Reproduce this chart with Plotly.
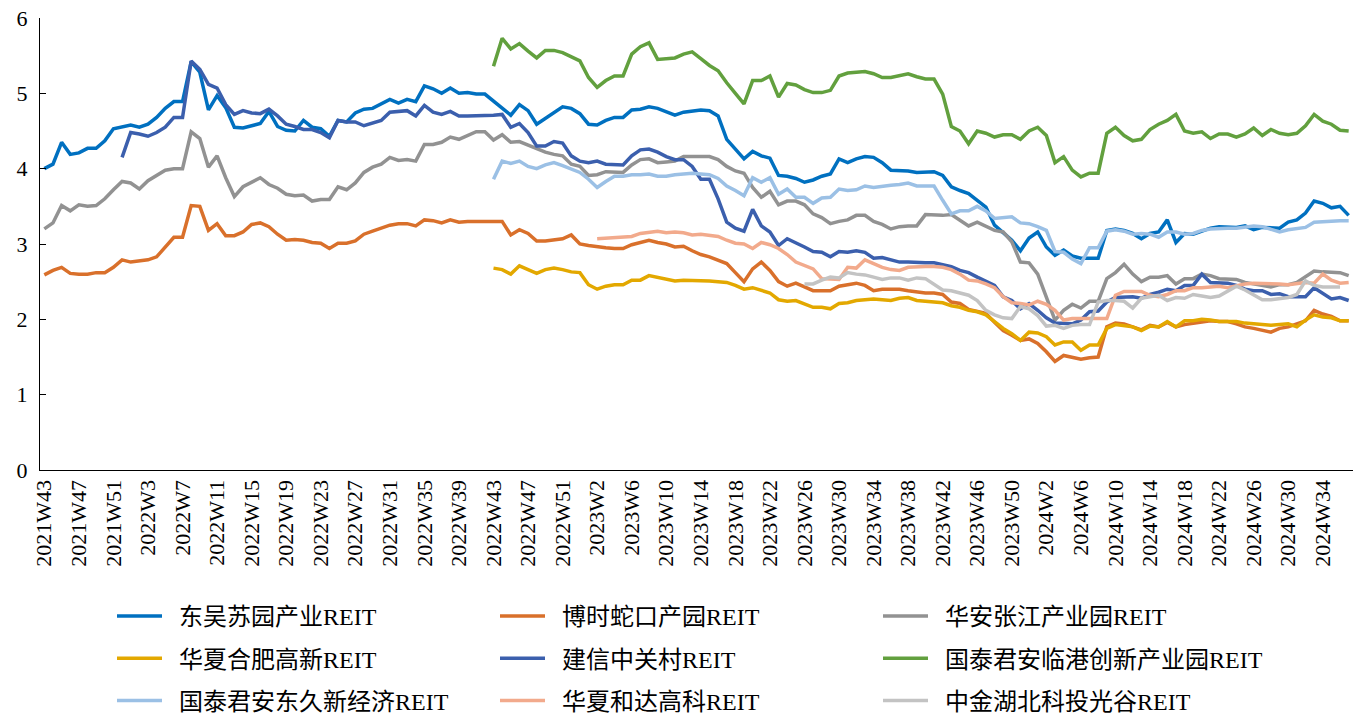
import plotly.graph_objects as go

# ---------------- categories (weekly labels) ----------------
CATEGORIES = ([f"2021W{w}" for w in range(43, 54)] +
              [f"2022W{w}" for w in range(2, 54)] +
              [f"2023W{w}" for w in range(1, 53)] +
              [f"2024W{w}" for w in range(1, 38)])

TICK_LABELS = ["2021W43", "2021W47", "2021W51", "2022W3", "2022W7", "2022W11", "2022W15",
               "2022W19", "2022W23", "2022W27", "2022W31", "2022W35", "2022W39", "2022W43",
               "2022W47", "2022W51", "2023W2", "2023W6", "2023W10", "2023W14", "2023W18",
               "2023W22", "2023W26", "2023W30", "2023W34", "2023W38", "2023W42", "2023W46",
               "2023W50", "2024W2", "2024W6", "2024W10", "2024W14", "2024W18", "2024W22",
               "2024W26", "2024W30", "2024W34"]

# ---------------- series (start week, values) ----------------
dongwu_start = "2021W43"
dongwu = [4.00, 4.06, 4.35, 4.19, 4.21, 4.27, 4.27, 4.37, 4.53, 4.56, 4.58, 4.55, 4.59, 4.68, 4.80, 4.89,
          4.89, 5.42, 5.28, 4.78, 4.97, 4.81, 4.55, 4.54, 4.57, 4.60, 4.76, 4.56, 4.51, 4.50, 4.64, 4.55,
          4.53, 4.43, 4.64, 4.62, 4.74, 4.79, 4.80, 4.86, 4.92, 4.87, 4.92, 4.89, 5.10, 5.06, 5.00, 5.07,
          5.00, 5.01, 4.99, 4.99, 4.90, 4.80, 4.71, 4.85, 4.77, 4.59, 4.67, 4.74, 4.82, 4.80, 4.73, 4.59,
          4.58, 4.64, 4.68, 4.68, 4.78, 4.79, 4.82, 4.80, 4.75, 4.71, 4.75, 4.77, 4.78, 4.77, 4.70, 4.39,
          4.26, 4.13, 4.23, 4.17, 4.14, 3.91, 3.90, 3.87, 3.82, 3.85, 3.90, 3.93, 4.13, 4.08, 4.13, 4.16,
          4.15, 4.08, 3.98, 3.98, 3.97, 3.95, 3.96, 3.96, 3.91, 3.76, 3.71, 3.67, 3.58, 3.49, 3.25, 3.15,
          3.05, 2.91, 3.08, 3.16, 2.96, 2.85, 2.92, 2.84, 2.81, 2.81, 2.81, 3.18, 3.20, 3.18, 3.14, 3.07,
          3.14, 3.16, 3.32, 3.02, 3.14, 3.13, 3.17, 3.21, 3.23, 3.23, 3.22, 3.24, 3.19, 3.22, 3.21, 3.21,
          3.29, 3.32, 3.41, 3.57, 3.54, 3.48, 3.50, 3.38]

boshi_start = "2021W43"
boshi = [2.59, 2.65, 2.69, 2.61, 2.60, 2.60, 2.62, 2.62, 2.69, 2.79, 2.76, 2.77, 2.79, 2.83, 2.96, 3.09,
         3.09, 3.51, 3.50, 3.18, 3.27, 3.11, 3.11, 3.16, 3.26, 3.28, 3.23, 3.13, 3.05, 3.06, 3.05, 3.02,
         3.01, 2.94, 3.01, 3.01, 3.04, 3.13, 3.17, 3.21, 3.25, 3.27, 3.27, 3.24, 3.32, 3.31, 3.28, 3.32,
         3.29, 3.30, 3.30, 3.30, 3.30, 3.30, 3.12, 3.19, 3.14, 3.04, 3.04, 3.05, 3.07, 3.12, 3.00, 2.98,
         2.96, 2.95, 2.94, 2.94, 2.99, 3.02, 3.05, 3.02, 3.00, 2.96, 2.97, 2.91, 2.86, 2.83, 2.79, 2.74,
         2.62, 2.50, 2.67, 2.76, 2.65, 2.50, 2.44, 2.48, 2.43, 2.38, 2.38, 2.38, 2.44, 2.46, 2.48, 2.45,
         2.38, 2.40, 2.40, 2.40, 2.38, 2.36, 2.35, 2.35, 2.33, 2.23, 2.21, 2.13, 2.11, 2.08, 1.96, 1.85,
         1.79, 1.72, 1.74, 1.68, 1.57, 1.44, 1.52, 1.49, 1.47, 1.49, 1.50, 1.90, 1.95, 1.94, 1.90, 1.86,
         1.92, 1.90, 1.96, 1.90, 1.93, 1.95, 1.96, 1.98, 1.97, 1.97, 1.94, 1.90, 1.88, 1.85, 1.83, 1.88,
         1.90, 1.94, 1.98, 2.12, 2.07, 2.04, 1.98, 1.98]

huaan_start = "2021W43"
huaan = [3.20, 3.28, 3.51, 3.44, 3.52, 3.50, 3.51, 3.60, 3.72, 3.83, 3.81, 3.73, 3.84, 3.91, 3.98, 4.00,
         4.00, 4.49, 4.40, 4.02, 4.17, 3.88, 3.63, 3.76, 3.82, 3.88, 3.79, 3.74, 3.66, 3.64, 3.65, 3.57,
         3.59, 3.59, 3.76, 3.72, 3.81, 3.95, 4.02, 4.06, 4.15, 4.11, 4.12, 4.10, 4.32, 4.32, 4.35, 4.42,
         4.39, 4.44, 4.49, 4.49, 4.38, 4.45, 4.35, 4.36, 4.31, 4.26, 4.22, 4.19, 4.17, 4.06, 4.03, 3.91,
         3.92, 3.96, 3.95, 3.95, 4.05, 4.12, 4.13, 4.08, 4.09, 4.10, 4.16, 4.16, 4.15, 4.16, 4.12, 4.03,
         3.97, 3.94, 3.75, 3.62, 3.70, 3.52, 3.57, 3.57, 3.52, 3.40, 3.35, 3.27, 3.30, 3.32, 3.38, 3.38,
         3.30, 3.26, 3.20, 3.23, 3.24, 3.24, 3.39, 3.38, 3.38, 3.39, 3.32, 3.24, 3.29, 3.24, 3.18, 3.16,
         3.03, 2.76, 2.75, 2.60, 2.28, 1.99, 2.12, 2.20, 2.15, 2.24, 2.24, 2.54, 2.62, 2.73, 2.60, 2.50,
         2.56, 2.56, 2.58, 2.47, 2.54, 2.54, 2.60, 2.58, 2.54, 2.54, 2.53, 2.49, 2.47, 2.45, 2.43, 2.46,
         2.46, 2.49, 2.57, 2.64, 2.63, 2.63, 2.62, 2.58]

hefei_start = "2022W43"
hefei = [2.68, 2.66, 2.60, 2.71, 2.66, 2.61, 2.66, 2.68, 2.66, 2.63, 2.62, 2.46, 2.40, 2.44, 2.46, 2.46,
         2.52, 2.52, 2.58, 2.56, 2.53, 2.51, 2.52, 2.52, 2.52, 2.51, 2.50, 2.49, 2.45, 2.40, 2.42, 2.38,
         2.35, 2.26, 2.24, 2.25, 2.21, 2.16, 2.16, 2.14, 2.21, 2.22, 2.25, 2.26, 2.27, 2.26, 2.25, 2.28,
         2.29, 2.25, 2.24, 2.24, 2.22, 2.18, 2.16, 2.12, 2.10, 2.06, 1.97, 1.88, 1.81, 1.72, 1.83, 1.82,
         1.77, 1.66, 1.70, 1.70, 1.59, 1.66, 1.66, 1.88, 1.93, 1.92, 1.90, 1.85, 1.91, 1.90, 1.97, 1.90,
         1.98, 1.98, 2.00, 1.99, 1.97, 1.97, 1.97, 1.95, 1.94, 1.93, 1.92, 1.93, 1.94, 1.90, 1.99, 2.06,
         2.03, 2.02, 1.98, 1.98]

jianxin_start = "2021W52"
jianxin = [4.15, 4.48, 4.46, 4.43, 4.48, 4.55, 4.68, 4.68, 5.43, 5.32, 5.12, 5.07, 4.85, 4.72, 4.77, 4.74,
           4.73, 4.79, 4.70, 4.59, 4.56, 4.52, 4.52, 4.48, 4.41, 4.64, 4.62, 4.62, 4.57, 4.60, 4.64, 4.75,
           4.76, 4.77, 4.70, 4.84, 4.75, 4.72, 4.76, 4.70, 4.70, 4.70, 4.70, 4.71, 4.72, 4.55, 4.60, 4.48,
           4.30, 4.30, 4.36, 4.34, 4.17, 4.10, 4.08, 4.10, 4.06, 4.05, 4.05, 4.17, 4.25, 4.26, 4.22, 4.16,
           4.12, 4.12, 4.03, 3.86, 3.86, 3.60, 3.29, 3.21, 3.17, 3.46, 3.24, 3.16, 2.98, 3.07, 3.02, 2.96,
           2.90, 2.89, 2.83, 2.90, 2.89, 2.91, 2.89, 2.81, 2.82, 2.79, 2.76, 2.76, 2.75, 2.75, 2.75, 2.73,
           2.70, 2.65, 2.62, 2.56, 2.50, 2.45, 2.30, 2.25, 2.14, 2.21, 2.12, 2.02, 1.95, 1.94, 1.94, 1.99,
           2.10, 2.11, 2.23, 2.29, 2.30, 2.30, 2.28, 2.33, 2.36, 2.40, 2.38, 2.45, 2.45, 2.60, 2.49, 2.49,
           2.48, 2.45, 2.40, 2.38, 2.38, 2.33, 2.34, 2.30, 2.30, 2.30, 2.42, 2.34, 2.27, 2.29, 2.25]

lingang_start = "2022W43"
lingang = [5.36, 5.73, 5.59, 5.66, 5.56, 5.47, 5.57, 5.57, 5.54, 5.49, 5.43, 5.21, 5.08, 5.17, 5.23, 5.23,
           5.52, 5.62, 5.67, 5.45, 5.46, 5.47, 5.52, 5.55, 5.46, 5.37, 5.30, 5.14, 5.00, 4.86, 5.17, 5.17,
           5.23, 4.95, 5.13, 5.11, 5.05, 5.01, 5.01, 5.04, 5.23, 5.27, 5.28, 5.29, 5.26, 5.21, 5.21, 5.23,
           5.26, 5.22, 5.19, 5.19, 4.99, 4.56, 4.50, 4.33, 4.50, 4.47, 4.42, 4.45, 4.45, 4.39, 4.50, 4.55,
           4.44, 4.08, 4.16, 3.98, 3.89, 3.94, 3.94, 4.47, 4.55, 4.44, 4.37, 4.39, 4.52, 4.59, 4.64, 4.72,
           4.50, 4.47, 4.49, 4.40, 4.46, 4.46, 4.42, 4.46, 4.54, 4.44, 4.52, 4.47, 4.45, 4.47, 4.57, 4.72,
           4.63, 4.59, 4.51, 4.50]

dongjiu_start = "2022W43"
dongjiu = [3.86, 4.10, 4.07, 4.10, 4.03, 4.00, 4.05, 4.08, 4.04, 3.99, 3.95, 3.86, 3.75, 3.83, 3.90, 3.90,
           3.92, 3.92, 3.93, 3.90, 3.90, 3.92, 3.93, 3.94, 3.93, 3.92, 3.87, 3.77, 3.71, 3.64, 3.88, 3.82,
           3.88, 3.66, 3.73, 3.62, 3.62, 3.54, 3.61, 3.62, 3.73, 3.71, 3.72, 3.77, 3.75, 3.77, 3.78, 3.79,
           3.81, 3.77, 3.77, 3.77, 3.58, 3.40, 3.44, 3.44, 3.50, 3.44, 3.34, 3.35, 3.36, 3.28, 3.27, 3.23,
           3.18, 2.90, 2.89, 2.80, 2.74, 2.95, 2.95, 3.17, 3.19, 3.17, 3.13, 3.14, 3.13, 3.09, 3.16, 3.16,
           3.13, 3.14, 3.18, 3.20, 3.21, 3.21, 3.21, 3.23, 3.24, 3.23, 3.20, 3.16, 3.19, 3.20, 3.22, 3.29,
           3.30, 3.30, 3.31, 3.31]

heda_start = "2023W2"
heda = [3.07, 3.08, 3.09, 3.10, 3.10, 3.14, 3.15, 3.17, 3.15, 3.16, 3.15, 3.12, 3.13, 3.11, 3.10, 3.05,
        3.01, 3.00, 2.94, 3.02, 2.99, 2.94, 2.86, 2.76, 2.72, 2.67, 2.54, 2.54, 2.53, 2.69, 2.68, 2.79,
        2.74, 2.69, 2.66, 2.65, 2.69, 2.70, 2.70, 2.70, 2.69, 2.66, 2.60, 2.52, 2.51, 2.47, 2.42, 2.30,
        2.22, 2.21, 2.19, 2.24, 2.20, 2.12, 1.99, 2.01, 2.01, 2.01, 2.01, 2.01, 2.32, 2.37, 2.37, 2.37,
        2.32, 2.30, 2.33, 2.38, 2.38, 2.42, 2.42, 2.43, 2.44, 2.42, 2.45, 2.47, 2.48, 2.48, 2.48, 2.47,
        2.46, 2.48, 2.49, 2.48, 2.60, 2.52, 2.48, 2.49, 2.52]

guanggu_start = "2023W26"
guanggu = [2.47, 2.47, 2.52, 2.56, 2.55, 2.62, 2.60, 2.59, 2.56, 2.53, 2.55, 2.55, 2.52, 2.55, 2.54, 2.47,
           2.39, 2.38, 2.35, 2.32, 2.25, 2.12, 2.06, 2.02, 2.01, 2.17, 2.14, 2.05, 1.91, 1.92, 1.88, 1.92,
           1.93, 1.93, 2.23, 2.25, 2.25, 2.24, 2.15, 2.28, 2.30, 2.32, 2.25, 2.29, 2.28, 2.33, 2.31, 2.29,
           2.31, 2.38, 2.44, 2.39, 2.33, 2.26, 2.26, 2.28, 2.29, 2.33, 2.51, 2.45, 2.43, 2.43, 2.43]

SERIES = [
    ("东吴苏园产业REIT", dongwu_start, dongwu, "#0070C0", "legend"),
    ("博时蛇口产园REIT", boshi_start, boshi, "#D9702B", "legend2"),
    ("华安张江产业园REIT", huaan_start, huaan, "#929292", "legend3"),
    ("华夏合肥高新REIT", hefei_start, hefei, "#E3A800", "legend"),
    ("建信中关村REIT", jianxin_start, jianxin, "#3B5FAD", "legend2"),
    ("国泰君安临港创新产业园REIT", lingang_start, lingang, "#62A03E", "legend3"),
    ("国泰君安东久新经济REIT", dongjiu_start, dongjiu, "#9BC0E5", "legend"),
    ("华夏和达高科REIT", heda_start, heda, "#F2AA8C", "legend2"),
    ("中金湖北科投光谷REIT", guanggu_start, guanggu, "#C3C3C3", "legend3"),
]

W, H = 1355, 707   # page body adds an 8px margin around the figure

fig = go.Figure()
for name, start, vals, color, leg in SERIES:
    s = CATEGORIES.index(start)
    fig.add_trace(go.Scatter(
        x=CATEGORIES[s:s + len(vals)], y=vals, name="\u00a0\u00a0" + name, mode="lines",
        line=dict(color=color, width=3.5), legend=leg, legendgroup=name,
    ))

SERIF = "Liberation Serif, 'Times New Roman', serif"
LEGFONT = dict(family="Liberation Serif, 'Noto Sans CJK SC', serif", size=24, color="#000000")

def leg(xpx):
    return dict(x=xpx / W, y=1 - 586 / H, xref="container", yref="container",
                xanchor="left", yanchor="top", orientation="v", font=LEGFONT,
                tracegroupgap=8, bgcolor="rgba(0,0,0,0)", itemwidth=45)

fig.update_layout(
    width=W, height=H,
    margin=dict(l=32, r=10, t=10, b=245, autoexpand=False),
    paper_bgcolor="white", plot_bgcolor="white",
    showlegend=True,
    legend=leg(104), legend2=leg(487), legend3=leg(870),
    xaxis=dict(type="category", categoryorder="array", categoryarray=CATEGORIES,
               range=[-0.5, len(CATEGORIES) - 0.5],
               tickmode="array", tickvals=TICK_LABELS, ticktext=TICK_LABELS,
               tickangle=-90, tickfont=dict(family=SERIF, size=22, color="#000000"),
               showline=True, linecolor="#000000", linewidth=1.2, ticks="",
               showgrid=False, zeroline=False, automargin=False),
    yaxis=dict(range=[0, 6], dtick=1, tick0=0,
               tickfont=dict(family=SERIF, size=22, color="#000000"),
               showline=True, linecolor="#000000", linewidth=1.2,
               ticks="inside", ticklen=6, tickcolor="#000000",
               showgrid=False, zeroline=False, ticklabelstandoff=7, automargin=False,
               ticklabeloverflow="allow"),
)

fig.write_html("out.html")
